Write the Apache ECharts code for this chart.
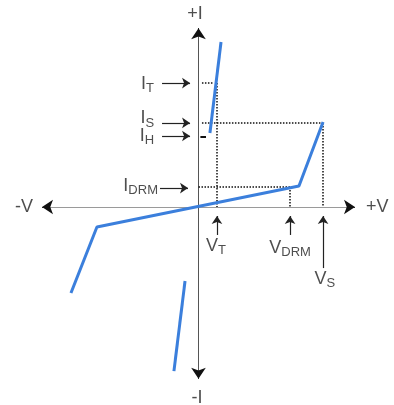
<!DOCTYPE html>
<html>
<head>
<meta charset="utf-8">
<script src="https://cdn.jsdelivr.net/npm/echarts@6/dist/echarts.min.js"></script>
<style>html,body{margin:0;padding:0;background:#fff}#c{width:394px;height:405px}</style>
</head>
<body>
<div id="c"></div>
<script>
// ---- data (diagram units: V horizontal, I vertical) ----
const curveMain = [[-8.15, -4.86], [-6.49, -1.13], [6.42, 1.19], [7.96, 4.80]];
const onStateUp = [[0.73, 4.18], [1.44, 9.32]];
const onStateDown = [[-0.86, -4.18], [-1.57, -9.27]];

const levelNames = ['I_T', 'I_S', 'I_H', 'I_DRM'];
const levelValues = [7.0, 4.75, 3.95, 1.13];
const voltNames = ['V_T', 'V_DRM', 'V_S'];
const voltValues = [1.18, 5.85, 7.96];

const axisXRange = [-10, 10];
const axisYRange = [-9.7, 10.1];

// label texts: [name, main, subscript]
const currentLabels = [['I', 'T'], ['I', 'S'], ['I', 'H'], ['I', 'DRM']];
const currentLabelY = [6.94, 5.0, 4.01, 1.19];
const voltLabels = [['V', 'T'], ['V', 'DRM'], ['V', 'S']];
const voltLabelY = [-2.20, -2.32, -4.07];
const axisLabels = ['+V', '-V', '+I', '-I'];

// ---- build ----
const I_T = levelValues[0], I_S = levelValues[1], I_H = levelValues[2], I_DRM = levelValues[3];
const V_T = voltValues[0], V_DRM = voltValues[1], V_S = voltValues[2];

const dotted = [
  [[0.22, I_T], [0.93, I_T]],
  [[V_T, I_T], [V_T, 0]],
  [[0.22, I_S], [V_S, I_S]],
  [[V_S, I_S], [V_S, 0]],
  [[0, I_DRM], [V_DRM, I_DRM]],
  [[V_DRM, I_DRM], [V_DRM, 0]]
];
const ihDash = [[0.12, I_H], [0.48, I_H]];

const currentArrowY = [7.0, 4.75, 4.01, 1.07];
const labelArrows = [];
currentArrowY.forEach((y, i) => {
  const x1 = i === 3 ? -2.46 : -2.33, x2 = i === 3 ? -0.67 : -0.54;
  labelArrows.push({coords: [[x1, y], [x2, y]]});
});
voltValues.forEach((v, i) => {
  labelArrows.push({coords: [[v, i === 2 ? -3.45 : -1.58], [v, -0.51]]});
});

const rich = {
  m: {fontSize: 18, lineHeight: 22, color: '#222', fontFamily: 'Liberation Sans, Arial, sans-serif'},
  s: {fontSize: 13, lineHeight: 14, color: '#222', verticalAlign: 'bottom', fontFamily: 'Liberation Sans, Arial, sans-serif'}
};
const labelData = [];
currentLabels.forEach((l, i) => {
  labelData.push({
    value: [i === 3 ? -2.59 : -2.84, currentLabelY[i]],
    label: {position: 'left', distance: 0, formatter: '{m|' + l[0] + '}{s|' + l[1] + '}'}
  });
});
const voltLabelX = [1.12, 5.85, 8.08];
voltLabels.forEach((l, i) => {
  labelData.push({
    value: [voltLabelX[i], voltLabelY[i]],
    label: {position: 'inside', formatter: '{m|' + l[0] + '}{s|' + l[1] + '}'}
  });
});
labelData.push({value: [10.70, 0], label: {position: 'right', distance: 0, formatter: '{m|' + axisLabels[0] + '}'}});
labelData.push({value: [-10.58, 0], label: {position: 'left', distance: 0, formatter: '{m|' + axisLabels[1] + '}'}});
labelData.push({value: [-0.22, 10.9], label: {position: 'inside', formatter: '{m|' + axisLabels[2] + '}'}});
labelData.push({value: [-0.1, -10.79], label: {position: 'inside', formatter: '{m|' + axisLabels[3] + '}'}});

const eps = 0.05;
const axisArrowHeads = [
  {coords: [[axisXRange[1] - eps, 0], [axisXRange[1], 0]]},
  {coords: [[axisXRange[0] + eps, 0], [axisXRange[0], 0]]},
  {coords: [[0, axisYRange[1] - eps], [0, axisYRange[1]]]},
  {coords: [[0, axisYRange[0] + eps], [0, axisYRange[0]]]}
];

const blue = '#3b7fdc';
const series = [
  {type: 'lines', coordinateSystem: 'cartesian2d', clip: false, silent: true,
   lineStyle: {color: '#9a9a9a', width: 1, opacity: 1}, symbol: ['none', 'none'],
   data: [{coords: [[axisXRange[0], 0], [axisXRange[1], 0]]}]},
  {type: 'lines', coordinateSystem: 'cartesian2d', clip: false, silent: true,
   lineStyle: {color: '#555', width: 1, opacity: 1}, symbol: ['none', 'none'],
   data: [{coords: [[0, axisYRange[0]], [0, axisYRange[1]]]}]},
  {type: 'lines', coordinateSystem: 'cartesian2d', clip: false, silent: true,
   lineStyle: {color: '#111', width: 1, opacity: 1}, symbol: ['none', 'arrow'], symbolSize: 11,
   data: axisArrowHeads},
  {type: 'lines', coordinateSystem: 'cartesian2d', clip: false, silent: true, z: 3,
   lineStyle: {color: '#111', width: 1.5, type: [1.5, 1.5], opacity: 1}, symbol: ['none', 'none'],
   data: dotted.map(c => ({coords: c}))},
  {type: 'lines', coordinateSystem: 'cartesian2d', clip: false, silent: true, z: 3,
   lineStyle: {color: '#111', width: 2, opacity: 1}, symbol: ['none', 'none'],
   data: [{coords: ihDash}]},
  {type: 'lines', coordinateSystem: 'cartesian2d', clip: false, silent: true,
   lineStyle: {color: '#222', width: 1.2, opacity: 1}, symbol: ['none', 'arrow'], symbolSize: 8,
   data: labelArrows},
  {type: 'line', data: curveMain, showSymbol: false, symbol: 'none', clip: false, z: 5,
   lineStyle: {color: blue, width: 3}, animation: false},
  {type: 'line', data: onStateUp, showSymbol: false, symbol: 'none', clip: false, z: 5,
   lineStyle: {color: blue, width: 3}, animation: false},
  {type: 'line', data: onStateDown, showSymbol: false, symbol: 'none', clip: false, z: 5,
   lineStyle: {color: blue, width: 3}, animation: false},
  {type: 'scatter', data: labelData, symbolSize: 0, clip: false, silent: true, z: 6,
   label: {show: true, rich: rich}}
];

const chart = echarts.init(document.getElementById('c'), null, {renderer: 'canvas'});
chart.setOption({
  animation: false,
  backgroundColor: '#fff',
  grid: {left: 42, right: 39, top: 30, bottom: 21},
  xAxis: {type: 'value', min: -10, max: 10, show: false},
  yAxis: {type: 'value', min: -10, max: 10, show: false},
  series: series
});
</script>
</body>
</html>
